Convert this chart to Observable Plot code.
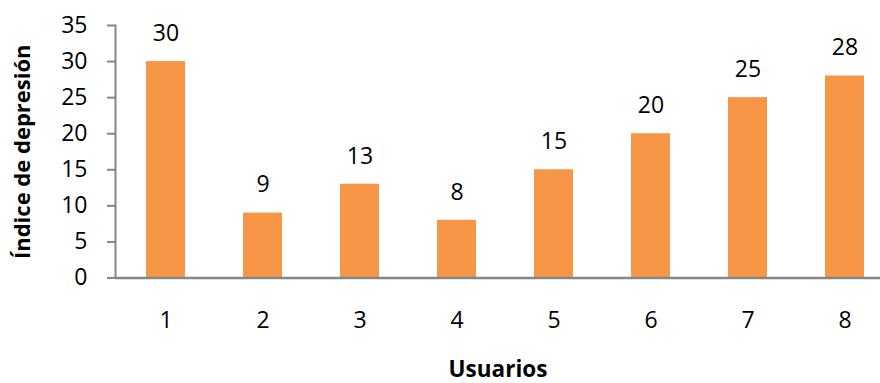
<!DOCTYPE html>
<html>
<head>
<meta charset="utf-8">
<script src="https://cdn.jsdelivr.net/npm/d3@7"></script>
<script src="https://cdn.jsdelivr.net/npm/@observablehq/plot@0.6"></script>
<style>
  html, body { margin: 0; padding: 0; background: #fff; }
  #chart svg { display: block; }
</style>
</head>
<body>
<div id="chart"></div>
<script>
// Depression index per user
const usuarios = ["1", "2", "3", "4", "5", "6", "7", "8"];
const indices = [30, 9, 13, 8, 15, 20, 25, 28];
const yTicks = [0, 5, 10, 15, 20, 25, 30, 35];

const data = usuarios.map((u, i) => ({usuario: u, indice: indices[i]}));

const axisColor = "#868686";
const barColor = "#F79646";
const font = "'Open Sans', sans-serif";

const chart = Plot.plot({
  width: 880,
  height: 383,
  marginLeft: 115,
  marginRight: 0,
  marginTop: 25,
  marginBottom: 105.5,
  style: {fontFamily: font, fontSize: "23px", color: "#000", background: "#fff", overflow: "hidden"},
  x: {domain: usuarios, range: [115, 894], paddingInner: 0.6, paddingOuter: 0.3, label: null},
  y: {domain: [0, 35], label: null},
  marks: [
    Plot.barY(data, {x: "usuario", y: "indice", fill: barColor}),
    Plot.text(data, {x: "usuario", y: "indice", text: d => String(d.indice), dy: -28, fontSize: 23, fill: "#000"}),
    Plot.axisY({ticks: yTicks, tickSize: 8, tickPadding: 20, stroke: axisColor, strokeWidth: 2, fill: "#000", fontSize: 23, label: null}),
    Plot.axisX({tickSize: 0, tickPadding: 34, fill: "#000", fontSize: 23, label: null}),
    Plot.frame({anchor: "left", stroke: axisColor, strokeWidth: 2}),
    Plot.ruleY([0], {stroke: axisColor, strokeWidth: 2.5}),
    // axis titles
    Plot.text(["Usuarios"], {frameAnchor: "bottom", dy: 99, text: d => d, fontWeight: "bold", fontSize: 22.5, fill: "#000"}),
    Plot.text(["Índice de depresión"], {frameAnchor: "left", textAnchor: "middle", dx: -93, rotate: -90, text: d => d, fontWeight: "bold", fontSize: 22, fill: "#000"})
  ]
});

document.getElementById("chart").appendChild(chart);
</script>
</body>
</html>
